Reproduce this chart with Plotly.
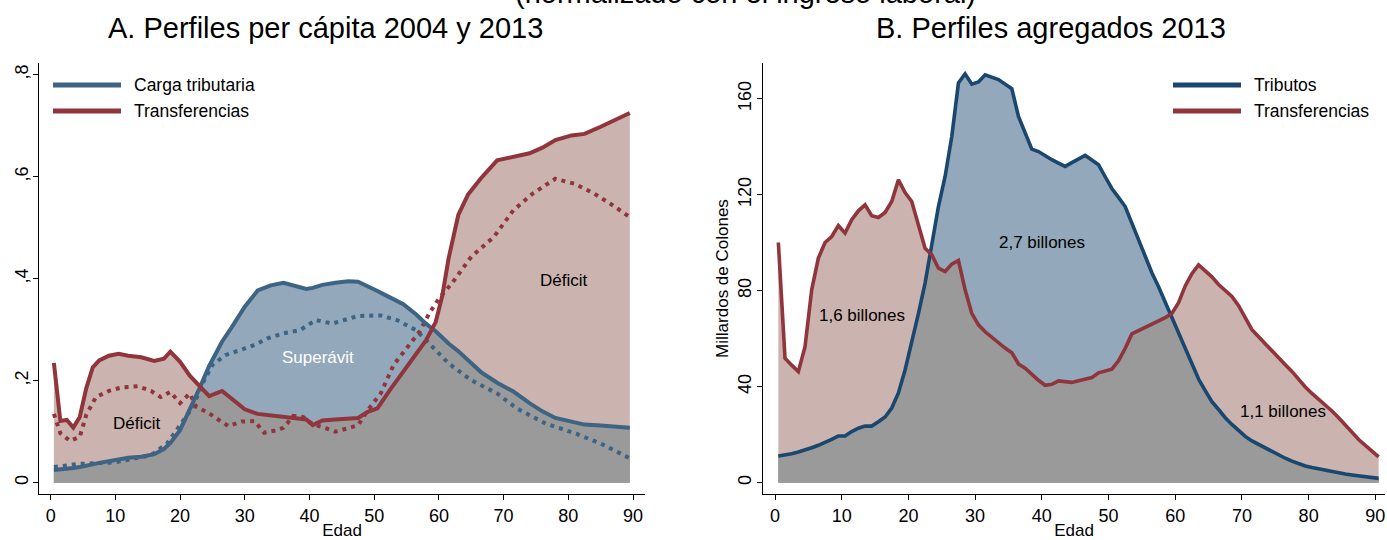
import numpy as np
import plotly.graph_objects as go

W, H = 1387, 540

# ---------------- Panel A: per-capita profiles (normalised) ----------------
edad_a = [0.5, 1.5, 2.5, 3.5, 4.5, 5.5, 6.5, 7.5, 9, 10.5, 12, 14, 16, 17.5, 18.5, 20,
          21.5, 23, 24.5, 26.5, 28, 30, 32, 34, 36, 38, 39.5, 40.5, 42, 44, 46, 47.5,
          49, 50.5, 52.5, 54.5, 56.5, 58, 59.5, 60.5, 61.5, 63, 64.5, 66.5, 69, 71.5, 74, 76,
          78, 80.5, 82.5, 85, 87.5, 89.5]
transf_2013 = [0.235, 0.121, 0.123, 0.108, 0.129, 0.185, 0.226, 0.240,
               0.249, 0.253, 0.249, 0.246, 0.239, 0.243, 0.257, 0.237,
               0.210, 0.189, 0.170, 0.180, 0.164, 0.144, 0.135, 0.132,
               0.129, 0.127, 0.124, 0.113, 0.122, 0.124, 0.125, 0.127,
               0.139, 0.146, 0.183, 0.219, 0.252, 0.279, 0.315, 0.365,
               0.440, 0.525, 0.565, 0.597, 0.632, 0.640, 0.646, 0.657,
               0.672, 0.681, 0.684, 0.698, 0.713, 0.725]
carga_2013 = [0.025, 0.026, 0.028, 0.029, 0.031, 0.033, 0.036, 0.039,
              0.043, 0.047, 0.049, 0.051, 0.056, 0.066, 0.078, 0.103,
              0.142, 0.185, 0.229, 0.277, 0.305, 0.345, 0.377, 0.387,
              0.392, 0.386, 0.380, 0.382, 0.388, 0.392, 0.395, 0.394,
              0.386, 0.376, 0.363, 0.350, 0.330, 0.312, 0.297, 0.285,
              0.273, 0.258, 0.240, 0.217, 0.196, 0.179, 0.156, 0.140,
              0.127, 0.119, 0.114, 0.112, 0.110, 0.108]

edad_t04 = [0.5, 1.5, 3, 4.5, 5.5, 7, 9, 11, 13.5, 15.5, 17, 18.5, 20, 21.5, 22.5, 24.5,
            26, 27.5, 29.5, 31.5, 33, 35, 36, 37.5, 39, 40.5, 42.5, 44, 46, 47.5, 49, 51,
            53, 55, 57, 58.5, 60, 62, 65, 68.5, 71.5, 74.5, 78, 81, 84, 86.5, 89.5]
transf_2004 = [0.135, 0.097, 0.082, 0.090, 0.133, 0.168, 0.180, 0.187, 0.189, 0.180,
               0.168, 0.178, 0.156, 0.175, 0.149, 0.136, 0.123, 0.111, 0.120, 0.121,
               0.098, 0.103, 0.108, 0.131, 0.129, 0.115, 0.107, 0.100, 0.107, 0.113,
               0.142, 0.175, 0.231, 0.263, 0.296, 0.332, 0.361, 0.391, 0.443, 0.482,
               0.534, 0.567, 0.596, 0.586, 0.567, 0.547, 0.521]
edad_c04 = [0.5, 4.5, 10, 15.5, 18, 20, 22, 23.5, 25, 27, 29.5, 31.5, 33.5, 36, 38.5, 41,
            43.5, 46, 47.5, 51, 53.5, 56.5, 59, 61.5, 65, 69, 72, 76.5, 81, 85, 89.5]
carga_2004 = [0.031, 0.037, 0.040, 0.054, 0.077, 0.113, 0.149, 0.195, 0.231, 0.250,
              0.260, 0.270, 0.283, 0.293, 0.299, 0.319, 0.312, 0.322, 0.327, 0.328,
              0.319, 0.299, 0.266, 0.234, 0.201, 0.175, 0.146, 0.116, 0.097, 0.077, 0.048]

# ---------------- Panel B: aggregate profiles 2013 (miles de millones) ----------------
edad_b = [i + 0.5 for i in range(91)]
tributos = [11.1, 11.5, 12.1, 12.8, 13.6, 14.6, 15.6, 16.7, 18.1, 19.5,
            19.5, 21.3, 22.7, 23.6, 23.6, 25.4, 27.4, 31.1, 37.4, 47.0,
            58.3, 70.5, 83.2, 98.4, 115.1, 127.6, 144.3, 166.6, 170.4, 166.1,
            167.0, 170.0, 169.1, 168.0, 166.1, 164.2, 152.6, 145.7, 139.0, 138.0,
            136.2, 134.6, 133.2, 131.8, 133.4, 134.9, 136.4, 134.5, 132.5, 127.5,
            122.6, 118.9, 115.1, 108.2, 101.1, 93.7, 87.5, 81.7, 75.2, 68.7,
            62.0, 55.5, 49.2, 43.2, 38.4, 33.8, 30.5, 27.1, 24.3, 21.8,
            19.3, 17.4, 15.9, 14.3, 12.8, 11.4, 10.2, 9.0, 7.8, 7.0,
            6.3, 5.7, 5.1, 4.5, 4.1, 3.6, 3.2, 2.8, 2.45, 2.2, 1.8]
transf_b = [100.1, 51.9, 49.0, 46.3, 56.7, 80.4, 93.6, 100.1, 102.6, 107.2,
            104.0, 109.6, 113.3, 115.8, 111.3, 110.5, 112.6, 117.2, 126.2, 120.9,
            117.2, 106.8, 97.7, 95.0, 89.4, 88.0, 91.1, 92.6, 80.4, 70.6,
            65.8, 62.9, 60.6, 58.2, 56.1, 54.2, 49.5, 47.7, 45.0, 42.7,
            40.6, 41.0, 42.4, 42.2, 41.8, 42.5, 43.2, 43.8, 45.8, 46.7,
            47.3, 50.8, 56.0, 62.0, 63.3, 64.7, 66.0, 67.4, 68.8, 70.5,
            75.0, 82.0, 87.1, 90.8, 88.5, 85.8, 82.6, 80.0, 77.6, 73.8,
            68.8, 63.8, 60.8, 57.8, 54.9, 52.0, 49.2, 46.4, 43.1, 39.9,
            37.2, 34.8, 32.4, 29.9, 27.1, 24.1, 21.1, 18.0, 15.6, 13.2, 10.8]

ticks_x = [0, 10, 20, 30, 40, 50, 60, 70, 80, 90]
ticks_ya = [0, 0.2, 0.4, 0.6, 0.8]
ticklab_ya = ["0", ",2", ",4", ",6", ",8"]
ticks_yb = [0, 40, 80, 120, 160]

# colours
RED = "#90353B"
BLUE_A = "#3D6483"
BLUE_B = "#1A476F"
PINK = "#CBB3AF"
BLUEF = "#93A8BA"
GRAY = "#9A9A9A"
FONT = "Liberation Sans, Arial, Helvetica, sans-serif"


def min_curve(x, a, b):
    x = np.asarray(x, float)
    a = np.asarray(a, float)
    b = np.asarray(b, float)
    xs, ys = [x[0]], [min(a[0], b[0])]
    for i in range(1, len(x)):
        d0, d1 = a[i - 1] - b[i - 1], a[i] - b[i]
        if d0 * d1 < 0:
            t = d0 / (d0 - d1)
            xs.append(x[i - 1] + t * (x[i] - x[i - 1]))
            ys.append(a[i - 1] + t * (a[i] - a[i - 1]))
        xs.append(x[i])
        ys.append(min(a[i], b[i]))
    return xs, ys


fig = go.Figure()


def fill(x, y, color, xa, ya):
    fig.add_trace(go.Scatter(x=x, y=y, mode="lines", fill="tozeroy", fillcolor=color,
                             line=dict(width=0, color=color), hoverinfo="skip",
                             xaxis=xa, yaxis=ya, showlegend=False))


def line(x, y, color, xa, ya, width=4, dash="solid", name=None):
    fig.add_trace(go.Scatter(x=x, y=y, mode="lines", name=name,
                             line=dict(width=width, color=color, dash=dash),
                             xaxis=xa, yaxis=ya, showlegend=False))


# Panel A fills
fill(edad_a, transf_2013, PINK, "x", "y")
fill(edad_a, carga_2013, BLUEF, "x", "y")
mx, my = min_curve(edad_a, transf_2013, carga_2013)
fill(mx, my, GRAY, "x", "y")
# Panel A lines
line(edad_c04, carga_2004, BLUE_A, "x", "y", width=4, dash="4px,5px", name="Carga tributaria 2004")
line(edad_t04, transf_2004, RED, "x", "y", width=4, dash="4px,5px", name="Transferencias 2004")
line(edad_a, carga_2013, BLUE_A, "x", "y", width=4, name="Carga tributaria")
line(edad_a, transf_2013, RED, "x", "y", width=4, name="Transferencias")

# Panel B fills
fill(edad_b, transf_b, PINK, "x2", "y2")
fill(edad_b, tributos, BLUEF, "x2", "y2")
mx2, my2 = min_curve(edad_b, transf_b, tributos)
fill(mx2, my2, GRAY, "x2", "y2")
line(edad_b, tributos, BLUE_B, "x2", "y2", width=3.6, name="Tributos")
line(edad_b, transf_b, RED, "x2", "y2", width=3.6, name="Transferencias")


def px(p):
    return p / W


def py(p):
    return 1 - p / H


axis_common = dict(showline=True, linecolor="black", linewidth=1.4, ticks="outside",
                   ticklen=5, tickwidth=1.4, tickcolor="black", showgrid=False,
                   zeroline=False, automargin=False,
                   tickfont=dict(size=18, color="black", family=FONT))

fig.update_layout(
    width=W, height=H, margin=dict(l=0, r=0, t=0, b=0, autoexpand=False),
    paper_bgcolor="white", plot_bgcolor="white", showlegend=False,
    font=dict(family=FONT, size=17, color="black"),
    xaxis=dict(domain=[px(39), px(645)], range=[-1.8, 91.85], tickvals=ticks_x,
               anchor="y", title=dict(text="Edad", font=dict(size=17), standoff=0),
               **axis_common),
    yaxis=dict(domain=[py(494), py(63)], range=[-0.0221, 0.823], tickvals=ticks_ya,
               ticktext=ticklab_ya, tickangle=-90, anchor="x", ticklabelstandoff=-2,
               **axis_common),
    xaxis2=dict(domain=[px(763), px(1385)], range=[-1.8, 91.45], tickvals=ticks_x,
                anchor="y2", title=dict(text="Edad", font=dict(size=17), standoff=0),
                **axis_common),
    yaxis2=dict(domain=[py(494), py(63)], range=[-4.7, 174.9], tickvals=ticks_yb,
                tickangle=-90, anchor="x2", ticklabelstandoff=-1,
                title=dict(text="Millardos de Colones", font=dict(size=17), standoff=1),
                **axis_common),
)

ann = []
# titles
ann.append(dict(text="(normalizado con el ingreso laboral)", x=px(745), y=py(-7.5),
                xref="paper", yref="paper", showarrow=False, xanchor="center",
                yanchor="middle", font=dict(size=29, color="black")))
ann.append(dict(text="A. Perfiles per cápita 2004 y 2013", x=px(325), y=py(28),
                xref="paper", yref="paper", showarrow=False, xanchor="center",
                yanchor="middle", font=dict(size=29, color="black")))
ann.append(dict(text="B. Perfiles agregados 2013", x=px(1051), y=py(28),
                xref="paper", yref="paper", showarrow=False, xanchor="center",
                yanchor="middle", font=dict(size=29, color="black")))
# in-plot labels
ann.append(dict(text="Déficit", x=13.3, y=0.117, xref="x", yref="y", showarrow=False,
                font=dict(size=17, color="black")))
ann.append(dict(text="Superávit", x=41.3, y=0.246, xref="x", yref="y", showarrow=False,
                font=dict(size=17, color="white")))
ann.append(dict(text="Déficit", x=79.4, y=0.397, xref="x", yref="y", showarrow=False,
                font=dict(size=17, color="black")))
ann.append(dict(text="1,6 billones", x=13.1, y=69.5, xref="x2", yref="y2", showarrow=False,
                font=dict(size=17, color="black")))
ann.append(dict(text="2,7 billones", x=40.1, y=100.1, xref="x2", yref="y2", showarrow=False,
                font=dict(size=17, color="black")))
ann.append(dict(text="1,1 billones", x=76.2, y=29.5, xref="x2", yref="y2", showarrow=False,
                font=dict(size=17, color="black")))

# legends (manual, Stata style)
shapes = []
legend_items = [
    (53, 121, 132, [("Carga tributaria", BLUE_A), ("Transferencias", RED)]),
    (1173, 1241, 1252, [("Tributos", BLUE_B), ("Transferencias", RED)]),
]
for x0, x1, xt, items in legend_items:
    for k, (label, col) in enumerate(items):
        yy = 85 + 26 * k
        shapes.append(dict(type="line", xref="paper", yref="paper", x0=px(x0), x1=px(x1),
                           y0=py(yy), y1=py(yy), line=dict(color=col, width=5)))
        ann.append(dict(text=label, x=px(xt), y=py(yy), xref="paper", yref="paper",
                        showarrow=False, xanchor="left", yanchor="middle",
                        font=dict(size=17.5, color="black")))

fig.update_layout(annotations=ann, shapes=shapes)
fig.write_html("out.html", config={"displayModeBar": False},
               post_script="document.body.style.margin='0px';")
